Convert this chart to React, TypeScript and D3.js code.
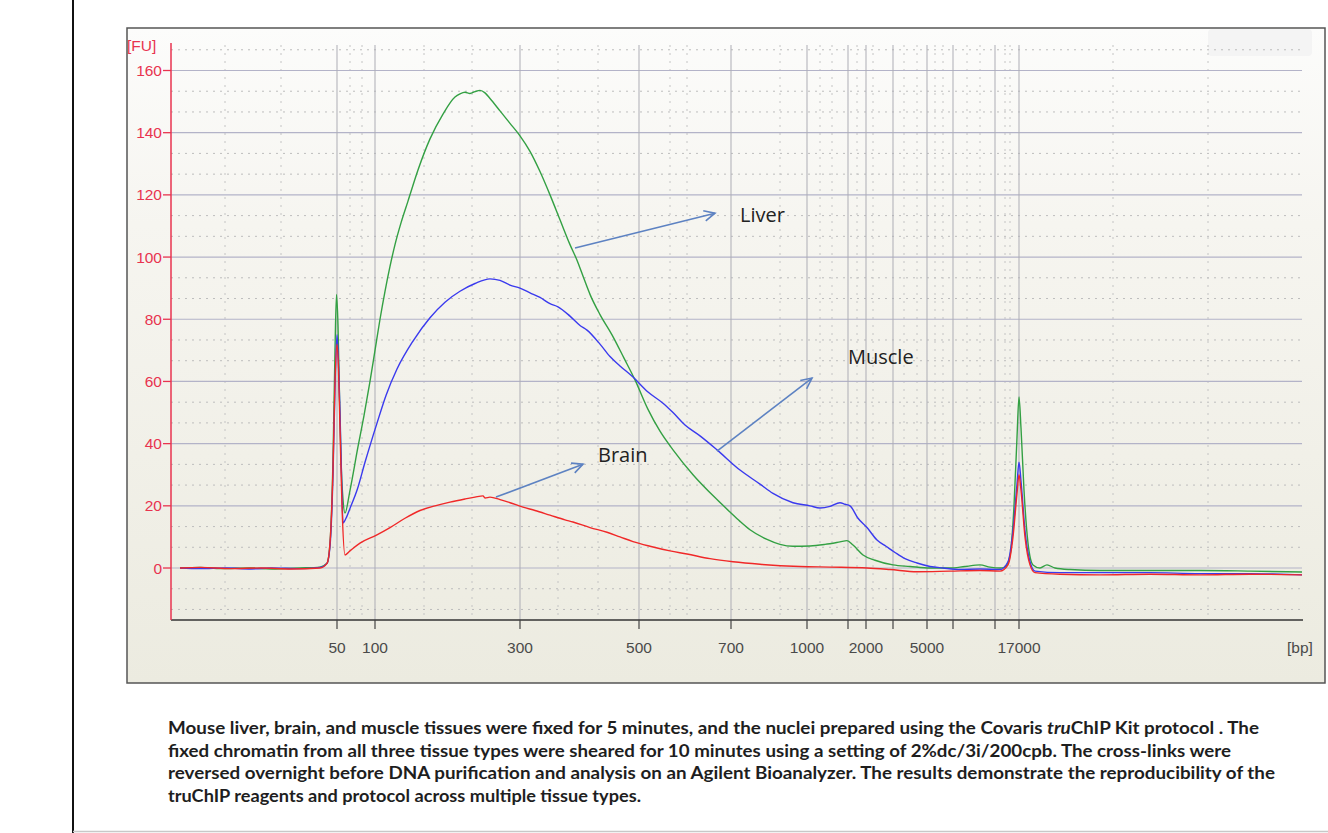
import React from 'react';
import * as d3 from 'd3';

type Pt = [number, number];

// migration time (s) vs fluorescence (FU)
const liver: Pt[] = [
  [20.9,0],[22.9,0.2],[25,-0.2],[27.9,0],[30,-0.3],[32.9,0],[34.9,0.3],[35.6,1.5],[35.9,8],[36.2,35],[36.4,70],[36.55,88],[36.7,78],[36.85,55],[37.0,35],[37.2,22],[37.4,17.7],
  [37.9,25],[38.7,39],[39.3,49],[39.9,60],[40.4,70],[40.9,80],[41.4,89],[41.9,97],[42.4,104],[43.0,111],[43.7,118],[44.7,128],[45.9,138],[47.2,146],[48.4,151.5],[48.9,152.5],[49.4,153],[49.9,152.6],[50.4,153.2],[50.9,153.6],[51.4,152.8],[51.9,151],
  [52.9,147],[53.9,143],[54.9,139],[55.9,134],[56.9,127.5],[57.9,120],[58.9,112],[59.9,104],[60.6,99],[61.3,93],[61.9,88],[62.9,81.5],[64.1,75],[65.3,67.5],[66.4,60.5],[67.7,51],[68.9,44],[70.2,38],[72.2,30],[74.6,22],[75.9,18],[76.9,15],[77.9,12.3],[79.6,9.2],[80.9,7.6],[82.2,7],[83.9,7.1],[85.4,7.6],[86.9,8.4],[87.6,8.8],[88.2,7.4],[89.2,4.2],[90.4,2.5],[92.2,1],[93.9,0.5],[95.9,0],[97.9,0],[99.4,0.5],[100.9,1],[101.9,0.3],[102.9,0],[103.4,0.3],[103.9,4],[104.3,20],[104.6,42],[104.8,55],[105.0,45],[105.3,25],[105.7,8],[106.2,1],[106.9,0],[107.6,1],[108.4,0],[109.9,-0.5],[112.9,-0.8],[117.9,-0.8],[122.9,-0.8],[127.9,-1],[133.1,-1.3]
];

const muscle: Pt[] = [
  [20.9,0],[22.9,-0.2],[25.5,0],[28,-0.3],[30,0],[32.9,-0.2],[34.9,0.2],[35.6,1.5],[35.9,7],[36.2,30],[36.4,58],[36.6,75],[36.75,66],[36.9,50],[37.05,30],[37.2,14.5],
  [37.5,16],[38.0,20],[38.6,25],[39.4,34],[40.6,46.6],[41.5,55.5],[42.6,64],[44.2,73],[45.9,80.5],[47.4,85.5],[48.9,89],[50.4,91.5],[51.9,93],[52.9,92.5],[53.9,91],[54.9,90],[55.9,88.5],[56.9,87],[57.9,85],[58.7,84],[59.9,81],[60.9,78],[61.6,76.5],[62.9,72],[63.9,68],[64.9,65],[66.2,61.4],[67.7,56.6],[69.2,53],[70.2,50],[71.4,46],[72.9,42.5],[74.6,38],[76.9,31.5],[78.9,27],[80.2,24],[82.2,21],[83.9,20],[84.9,19.3],[85.9,19.8],[86.9,21],[87.4,20.5],[87.9,20],[88.7,16],[89.6,13],[90.6,9],[91.5,7],[92.4,5],[93.4,3],[94.6,1.6],[95.9,0.5],[97.2,0],[98.9,-0.5],[100.9,-0.3],[102.9,-0.5],[103.7,2],[104.2,12],[104.6,27],[104.8,34],[105.0,28],[105.4,12],[105.9,2],[106.4,-1],[108.9,-1.5],[112.9,-1.5],[117.9,-1.5],[122.9,-1.8],[127.9,-1.8],[130.9,-2],[133.1,-2.2]
];

const brain: Pt[] = [
  [20.9,0],[23,0.2],[26,-0.2],[29,0],[32,-0.3],[34.9,0],[35.6,1.5],[35.9,8],[36.2,32],[36.4,60],[36.6,72],[36.75,64],[36.9,45],[37.1,20],[37.4,4.2],
  [37.9,5.5],[38.9,8],[40.5,10.5],[41.9,13],[43.4,16],[44.9,18.5],[46.4,20],[47.9,21.2],[49.4,22.2],[50.4,22.8],[51.2,23.2],[51.4,22.5],[51.9,22.8],[52.9,22],[53.9,21],[55.2,19.6],[56.4,18.5],[57.9,17],[59.4,15.5],[60.2,14.8],[61.9,13],[63.6,11.5],[64.9,10],[66.2,8.5],[67.9,7],[69.9,5.5],[71.6,4.5],[73.9,3],[76.2,2],[78.9,1.2],[82.9,0.5],[85.9,0.3],[89.6,0],[91.9,-0.5],[94.6,-1.2],[97.9,-1],[100.9,-0.8],[102.9,-1],[103.7,1],[104.2,10],[104.6,24],[104.8,30],[105.0,25],[105.4,10],[105.9,1],[106.4,-1.5],[108.9,-2],[112.9,-2.2],[117.9,-2],[122.9,-2.2],[127.9,-2],[133.1,-2.2]
];

// ladder: size (bp) and migration time (s)
const ladderBp = [50, 100, 300, 500, 700, 1000, 1500, 2000, 3000, 5000, 7000, 10000, 17000];
const ladderTime = [36.6, 40.4, 54.9, 66.8, 76.0, 83.6, 87.7, 89.5, 92.2, 95.6, 98.2, 102.4, 104.8];
const ladderLabels = ['50', '100', '300', '500', '700', '1000', '', '2000', '', '5000', '', '', '17000'];
const minorGridTime = [25.4, 31.0, 37.9, 39.1, 45.3, 50.1, 58.7, 62.7, 69.9, 71.6, 80.9, 84.9, 86.1, 88.6, 90.2, 93.3, 94.6, 96.4, 97.2, 99.6, 100.9, 103.4, 103.9, 114.2, 123.7];
const yTicks = [0, 20, 40, 60, 80, 100, 120, 140, 160];

// annotations: label, arrow start [t, FU], arrow end [t, FU], label anchor [t, FU]
const annLabels = ['Liver', 'Muscle', 'Brain'];
const annFrom: Pt[] = [[60.4, 102.9], [74.6, 37.6], [52.5, 22.8]];
const annTo: Pt[] = [[74.4, 114.1], [84.1, 61.1], [61.2, 33.4]];
const annAt: Pt[] = [[76.9, 113.5], [87.7, 67.8], [62.7, 36.3]];

const captionLines = [
  ['Mouse liver, brain, and muscle tissues were fixed for 5 minutes, and the nuclei prepared using the Covaris ', 'tru', 'ChIP Kit protocol . The'],
  ['fixed chromatin from all three tissue types were sheared for 10 minutes using a setting of 2%dc/3i/200cpb. The cross-links were'],
  ['reversed overnight before DNA purification and analysis on an Agilent Bioanalyzer. The results demonstrate the reproducibility of the'],
  ['truChIP reagents and protocol across multiple tissue types.'],
];
const captionWidths = [1091, 1063, 1107, 473];

export default function App() {
  const W = 1328, H = 833;
  const left = 171, right = 1302, top = 45, bottom = 620;
  const x = d3.scaleLinear().domain([20, 133.1]).range([left, right]);
  const y = d3.scaleLinear().domain([-16.72, 168.2]).range([bottom, top]);
  const line = d3.line<Pt>().x(d => x(d[0])).y(d => y(d[1])).curve(d3.curveMonotoneX);

  const dottedY = d3.range(-2, 26).filter(k => k % 3 !== 0).map(k => (k * 20) / 3);
  const axisFont = "'Liberation Sans', Arial, sans-serif";
  const red = '#e8334f';
  const arrowColor = '#5d82c2';

  const arrowHead = (from: Pt, to: Pt) => {
    const x1 = x(from[0]), y1 = y(from[1]), x2 = x(to[0]), y2 = y(to[1]);
    const a = Math.atan2(y2 - y1, x2 - x1);
    const L = 12, s = 0.45;
    const p1 = [x2 - L * Math.cos(a - s), y2 - L * Math.sin(a - s)];
    const p2 = [x2 - L * Math.cos(a + s), y2 - L * Math.sin(a + s)];
    return `M${p1[0]},${p1[1]}L${x2},${y2}L${p2[0]},${p2[1]}`;
  };

  return (
    <svg width={W} height={H} style={{ position: 'absolute', left: 0, top: 0, display: 'block', background: '#fff' }}>
      <defs>
        <linearGradient id="bg" x1="0" y1="0" x2="0" y2="1">
          <stop offset="0%" stopColor="#fcfcfb" />
          <stop offset="30%" stopColor="#f6f5f0" />
          <stop offset="100%" stopColor="#ecebe0" />
        </linearGradient>
      </defs>
      <line x1={73} y1={0} x2={73} y2={H} stroke="#111" strokeWidth={2} />
      <line x1={73} y1={H - 1.5} x2={W} y2={H - 1.5} stroke="#c8c8c8" strokeWidth={1.5} />

      <rect x={127} y={28} width={1198} height={655} fill="url(#bg)" stroke="#555" strokeWidth={1.5} />
      <rect x={1208} y={29} width={104} height={27} fill="#f4f4f4" rx={4} />

      {/* dotted grid */}
      {dottedY.map(v => (
        <line key={'dy' + v} x1={left} x2={right} y1={y(v)} y2={y(v)} stroke="#bdbdbd" strokeWidth={1} strokeDasharray="2,5" />
      ))}
      {minorGridTime.map(t => (
        <line key={'dx' + t} x1={x(t)} x2={x(t)} y1={top} y2={bottom} stroke="#c4c4c4" strokeWidth={1} strokeDasharray="2,6" />
      ))}
      {/* solid grid */}
      {yTicks.map(v => (
        <line key={'gy' + v} x1={left} x2={right} y1={y(v)} y2={y(v)} stroke="#b3b3c8" strokeWidth={1.2} />
      ))}
      {ladderTime.map(t => (
        <line key={'gx' + t} x1={x(t)} x2={x(t)} y1={top} y2={bottom} stroke="#adadb5" strokeWidth={1} />
      ))}

      {/* axes */}
      <line x1={left} x2={right + 1} y1={bottom} y2={bottom} stroke="#333" strokeWidth={1.5} />
      {ladderTime.map((t, i) => (
        <g key={'xt' + ladderBp[i]}>
          <line x1={x(t)} x2={x(t)} y1={bottom} y2={bottom + 9} stroke="#444" strokeWidth={1.2} />
          {ladderLabels[i] && (
            <text x={x(t)} y={653} textAnchor="middle" fontFamily={axisFont} fontSize={15.5} fill="#4a4a4a">{ladderLabels[i]}</text>
          )}
        </g>
      ))}
      <text x={1287} y={653} fontFamily={axisFont} fontSize={15.5} fill="#4a4a4a">[bp]</text>

      <line x1={left} x2={left} y1={top - 2} y2={bottom} stroke={red} strokeWidth={1.5} />
      {yTicks.map(v => (
        <g key={'yt' + v}>
          <line x1={left - 8} x2={left} y1={y(v)} y2={y(v)} stroke={red} strokeWidth={1.3} />
          <text x={left - 9} y={y(v) + 5.5} textAnchor="end" fontFamily={axisFont} fontSize={15.5} fill={red}>{v}</text>
        </g>
      ))}
      <text x={127} y={51} fontFamily={axisFont} fontSize={15.5} fill={red}>[FU]</text>

      {/* traces */}
      <path d={line(liver) || ''} fill="none" stroke="#33a043" strokeWidth={1.4} />
      <path d={line(muscle) || ''} fill="none" stroke="#3a3aee" strokeWidth={1.4} />
      <path d={line(brain) || ''} fill="none" stroke="#f02828" strokeWidth={1.4} />

      {/* annotations */}
      {annLabels.map((lab, i) => (
        <g key={lab}>
          <line x1={x(annFrom[i][0])} y1={y(annFrom[i][1])} x2={x(annTo[i][0])} y2={y(annTo[i][1])} stroke={arrowColor} strokeWidth={1.6} />
          <path d={arrowHead(annFrom[i], annTo[i])} fill="none" stroke={arrowColor} strokeWidth={1.6} />
          <text x={x(annAt[i][0])} y={y(annAt[i][1]) + 7} fontFamily="'Open Sans', sans-serif" fontSize={20} fill="#222">{lab}</text>
        </g>
      ))}

      {/* caption */}
      {captionLines.map((parts, i) => (
        <text key={'c' + i} x={168} y={734 + i * 22.6} fontFamily="Lato, 'Open Sans', sans-serif" fontWeight={700} fontSize={16.5} fill="#1e1e1e"
          textLength={captionWidths[i]} lengthAdjust="spacingAndGlyphs">
          {parts.map((p, j) => (
            <tspan key={j} fontStyle={p === 'tru' ? 'italic' : 'normal'}>{p}</tspan>
          ))}
        </text>
      ))}
    </svg>
  );
}
